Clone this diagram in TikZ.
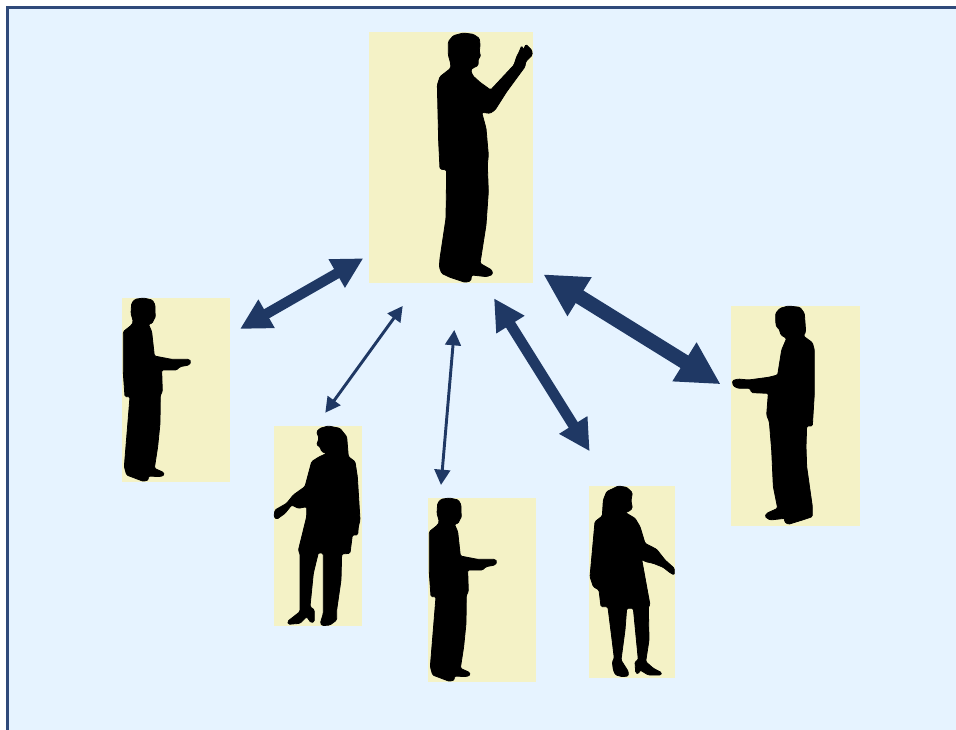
\documentclass[tikz,border=0pt]{standalone}
\usetikzlibrary{arrows.meta}
\definecolor{panel}{HTML}{E6F3FF}
\definecolor{frameblue}{HTML}{2F4A7A}
\definecolor{arrowblue}{HTML}{1F3864}
\definecolor{cardfill}{HTML}{F4F2C6}
\newcommand{\manpath}{(85,24)--(112,30)--(120,45)--(120,72)--(122,80)--(115,90)--(112,100)--(100,102)--(110,125)--(115,170)--(118,198)--(170,208)--(190,208)--(222,208)--(228,215)--(222,225)--(195,230)--(185,240)--(140,240)--(142,305)--(136,315)--(135,400)--(128,470)--(118,535)--(145,547)--(148,555)--(135,560)--(100,558)--(100,570)--(85,574)--(35,555)--(28,530)--(45,320)--(30,320)--(25,250)--(25,125)--(50,105)--(55,95)--(48,70)--(50,40)--(60,28)--cycle}
\tikzset{
  card/.style={fill=cardfill,draw=none,inner sep=0pt,outer sep=0pt},
  figure3/.style={fill=black,draw=black,line width=0.6pt,line join=round,rounded corners=1pt,scale=1/3},
  link/.style={draw=arrowblue,fill=arrowblue},
}
\begin{document}
\begin{tikzpicture}[x=0.75pt,y=-0.75pt]
\clip (0,0) rectangle (956,730);
\fill[white] (0,0) rectangle (956,730);
\draw[fill=panel,draw=frameblue,line width=1.6pt] (7.5,7.5) rectangle (980,760);
% cards
\node[card,minimum width=123.2pt,minimum height=188.25pt] (boss) at (450.8,157.5) {};
\node[card,minimum width=81pt,minimum height=138pt] (left) at (176,390) {};
\node[card,minimum width=97pt,minimum height=165pt] (right) at (795.3,416) {};
\node[card,minimum width=66pt,minimum height=150pt] (womanL) at (318,526) {};
\node[card,minimum width=81pt,minimum height=138pt] (centre) at (482,590) {};
\node[card,minimum width=64.5pt,minimum height=144pt] (womanR) at (632,582) {};
% silhouettes
\path[shift={(360,25)},figure3] (310,24)--(340,28)--(358,40)--(360,60)--(358,80)--(362,95)--(355,100)--(354,122)--(340,128)--(332,135)--(338,152)--(360,172)--(392,195)--(462,120)--(470,95)--(478,80)--(485,62)--(490,75)--(498,58)--(515,75)--(517,90)--(497,110)--(495,125)--(440,200)--(405,255)--(390,265)--(365,262)--(378,310)--(385,390)--(382,420)--(385,500)--(378,600)--(360,715)--(395,735)--(398,748)--(380,755)--(335,750)--(332,768)--(315,772)--(270,757)--(245,745)--(238,725)--(240,700)--(258,580)--(260,435)--(240,432)--(236,350)--(232,180)--(240,155)--(272,130)--(272,115)--(265,90)--(265,50)--(280,32)--cycle;
\path[shift={(115,290)},figure3] \manpath;
\path[shift={(421,490)},figure3] \manpath;
\path[shift={(725,300)},figure3] (190,18)--(225,22)--(238,40)--(242,95)--(235,108)--(262,128)--(268,150)--(268,280)--(262,378)--(245,378)--(243,440)--(245,500)--(262,620)--(262,650)--(232,660)--(190,673)--(178,665)--(180,655)--(135,660)--(120,650)--(125,640)--(158,625)--(145,560)--(140,450)--(133,365)--(125,345)--(130,280)--(80,278)--(75,265)--(40,265)--(25,258)--(22,242)--(40,237)--(70,240)--(130,232)--(158,225)--(170,150)--(185,115)--(168,105)--(162,85)--(155,82)--(152,65)--(152,40)--(165,25)--cycle;
\path[shift={(265,420)},figure3] (190,18)--(225,25)--(245,50)--(250,110)--(270,125)--(277,170)--(285,300)--(280,320)--(278,345)--(262,345)--(255,400)--(230,402)--(228,480)--(215,570)--(215,600)--(195,615)--(172,617)--(166,610)--(175,580)--(175,400)--(160,398)--(145,460)--(135,560)--(148,570)--(148,605)--(138,608)--(125,590)--(105,610)--(70,613)--(68,604)--(105,575)--(105,400)--(100,392)--(125,290)--(125,260)--(100,265)--(80,255)--(60,280)--(35,298)--(27,290)--(30,270)--(65,250)--(85,225)--(120,200)--(140,125)--(160,112)--(185,100)--(170,95)--(165,80)--(155,75)--(162,55)--(155,35)--(165,25)--cycle;
\path[shift={(585,480)},figure3] (100,18)--(125,22)--(142,38)--(138,62)--(142,85)--(130,95)--(120,97)--(150,115)--(165,140)--(180,190)--(215,208)--(240,240)--(268,265)--(268,285)--(255,278)--(235,262)--(205,250)--(182,245)--(170,238)--(195,375)--(190,378)--(192,480)--(182,545)--(205,565)--(230,578)--(228,585)--(190,585)--(165,570)--(160,582)--(152,578)--(150,545)--(160,540)--(145,385)--(125,385)--(120,450)--(108,540)--(130,575)--(130,588)--(112,590)--(92,585)--(85,570)--(82,545)--(88,535)--(70,390)--(68,380)--(48,380)--(42,330)--(25,320)--(15,290)--(30,125)--(52,108)--(55,60)--(65,35)--cycle;
% connector ends
\coordinate (a1) at (240,329); \coordinate (b1) at (363.3,258.3);
\coordinate (a2) at (325.3,412.7); \coordinate (b2) at (402.7,306);
\coordinate (a3) at (441,485); \coordinate (b3) at (454.3,330);
\coordinate (a4) at (589.7,451.3); \coordinate (b4) at (494,298.3);
\coordinate (a5) at (720.7,384.3); \coordinate (b5) at (543.3,274.3);
\draw[link,line width=7.8pt,{Triangle[length=23pt,width=23pt]}-{Triangle[length=23pt,width=23pt]}] (a1)--(b1);
\draw[link,line width=2.2pt,{Triangle[length=11.3pt,width=11.6pt]}-{Triangle[length=11.3pt,width=11.6pt]}] (a2)--(b2);
\draw[link,line width=2.2pt,{Triangle[length=11.5pt,width=11.7pt]}-{Triangle[length=11.5pt,width=11.7pt]}] (a3)--(b3);
\draw[link,line width=8pt,{Triangle[length=23.3pt,width=23.3pt]}-{Triangle[length=23.3pt,width=23.3pt]}] (a4)--(b4);
\draw[link,line width=11pt,{Triangle[length=32pt,width=32pt]}-{Triangle[length=32pt,width=32pt]}] (a5)--(b5);
\end{tikzpicture}
\end{document}
